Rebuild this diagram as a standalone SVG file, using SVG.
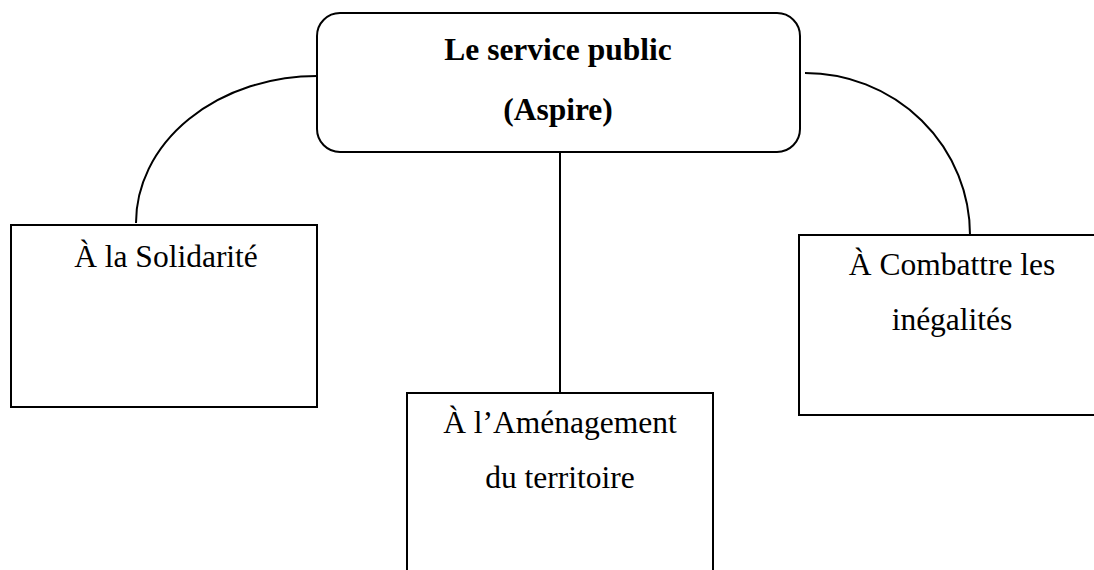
<svg xmlns="http://www.w3.org/2000/svg" width="1094" height="570" viewBox="0 0 1094 570">
<style>
.box{fill:#fff;stroke:#000;stroke-width:2}
.con{fill:none;stroke:#000;stroke-width:2}
.t{font-family:"Liberation Serif","Times New Roman",serif;font-size:31.5px;fill:#000;text-anchor:middle}
.b{font-weight:bold}
</style>
<rect width="1094" height="570" fill="#fff"/>
<g id="connectors">
<path class="con" d="M317,76 A181,147 0 0 0 136,223"/>
<path class="con" d="M805,73 A165,162 0 0 1 970,235"/>
<line class="con" x1="560" y1="152" x2="560" y2="393"/>
</g>
<g id="n-central">
<rect class="box" x="317" y="13" width="483" height="139" rx="23" ry="23"/>
<text class="t b" x="558" y="60">Le service public</text>
<text class="t b" x="558" y="120">(Aspire)</text>
</g>
<g id="n-solidarite">
<rect class="box" x="11" y="225" width="306" height="182"/>
<text class="t" x="166" y="267">À la Solidarité</text>
</g>
<g id="n-amenagement">
<rect class="box" x="407" y="393" width="306" height="190"/>
<text class="t" x="560" y="433">À l’Aménagement</text>
<text class="t" x="560" y="488">du territoire</text>
</g>
<g id="n-inegalites">
<rect class="box" x="799" y="235" width="310" height="180"/>
<text class="t" x="952" y="275">À Combattre les</text>
<text class="t" x="952" y="330">inégalités</text>
</g>
</svg>
